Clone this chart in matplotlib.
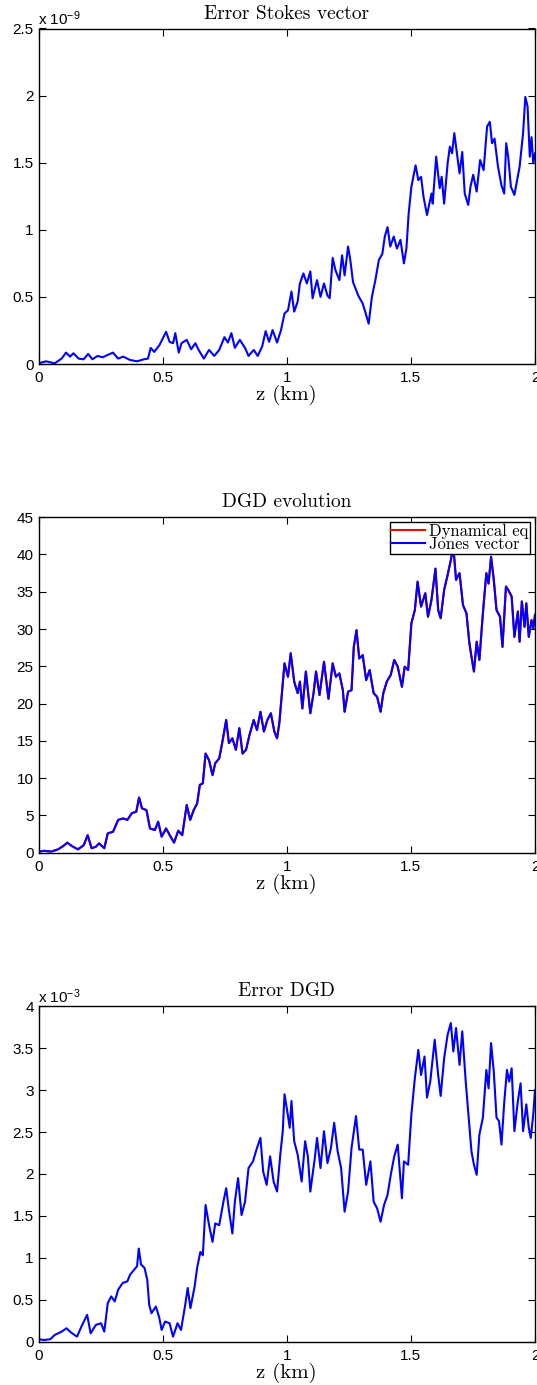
import matplotlib
matplotlib.use("Agg")
import matplotlib.pyplot as plt
from matplotlib.ticker import FuncFormatter, MultipleLocator

plt.rcParams['mathtext.fontset'] = 'custom'
plt.rcParams['mathtext.rm'] = 'Liberation Sans'
plt.rcParams['mathtext.it'] = 'Liberation Sans:italic'
plt.rcParams['font.family'] = ['Liberation Sans', 'DejaVu Sans']

# ---------------- data ----------------
# Panel 1: Error Stokes vector (values in units of 1e-9)
stokes_scale = 1e-9
stokes_z = [0, 0.030, 0.065, 0.093, 0.111, 0.127, 0.141, 0.162, 0.182, 0.200, 0.217, 0.238,
            0.258, 0.300, 0.321, 0.341, 0.369, 0.397, 0.424, 0.441, 0.452, 0.466, 0.487, 0.514,
            0.528, 0.542, 0.551, 0.565, 0.576, 0.597, 0.615, 0.632, 0.645, 0.666, 0.687, 0.708,
            0.728, 0.749, 0.763, 0.777, 0.791, 0.811, 0.832, 0.846, 0.867, 0.883, 0.901, 0.915,
            0.929, 0.943, 0.961, 0.977, 0.991, 1.005, 1.019, 1.030, 1.044, 1.053, 1.067, 1.081,
            1.095, 1.104, 1.122, 1.136, 1.150, 1.164, 1.173, 1.185, 1.196, 1.212, 1.223, 1.233,
            1.247, 1.256, 1.267, 1.288, 1.306, 1.316, 1.330, 1.343, 1.357, 1.371, 1.385, 1.395,
            1.406, 1.417, 1.431, 1.444, 1.458, 1.472, 1.482, 1.491, 1.502, 1.519, 1.530, 1.541,
            1.551, 1.565, 1.583, 1.588, 1.602, 1.616, 1.624, 1.634, 1.648, 1.657, 1.666, 1.675,
            1.685, 1.696, 1.707, 1.717, 1.731, 1.740, 1.751, 1.765, 1.779, 1.793, 1.807, 1.818,
            1.827, 1.837, 1.851, 1.865, 1.876, 1.884, 1.892, 1.903, 1.917, 1.928, 1.938, 1.952,
            1.961, 1.970, 1.979, 1.986, 1.993, 2.000]
stokes_err = [0.005, 0.02, 0.005, 0.04, 0.085, 0.055, 0.08, 0.04, 0.035, 0.075, 0.035, 0.06,
              0.05, 0.085, 0.04, 0.055, 0.03, 0.02, 0.035, 0.04, 0.12, 0.09, 0.14, 0.24,
              0.165, 0.155, 0.23, 0.085, 0.155, 0.18, 0.11, 0.155, 0.105, 0.04, 0.105, 0.06,
              0.105, 0.2, 0.16, 0.23, 0.12, 0.18, 0.12, 0.06, 0.105, 0.06, 0.13, 0.245,
              0.165, 0.253, 0.16, 0.253, 0.377, 0.40, 0.54, 0.39, 0.465, 0.60, 0.675, 0.60,
              0.69, 0.49, 0.625, 0.50, 0.60, 0.51, 0.49, 0.79, 0.70, 0.625, 0.81, 0.66,
              0.875, 0.775, 0.61, 0.51, 0.45, 0.39, 0.30, 0.50, 0.625, 0.775, 0.82, 0.95,
              1.02, 0.875, 0.95, 0.86, 0.925, 0.75, 0.86, 1.12, 1.32, 1.48, 1.37, 1.395,
              1.245, 1.11, 1.27, 1.195, 1.545, 1.31, 1.395, 1.195, 1.495, 1.62, 1.57, 1.72,
              1.58, 1.42, 1.58, 1.27, 1.185, 1.32, 1.41, 1.285, 1.52, 1.445, 1.77, 1.805,
              1.645, 1.68, 1.47, 1.33, 1.27, 1.645, 1.545, 1.32, 1.26, 1.37, 1.47, 1.72,
              1.99, 1.92, 1.545, 1.69, 1.495, 1.57]

# Panel 2: DGD evolution
dgd_z = [0, 0.023, 0.051, 0.079, 0.100, 0.116, 0.134, 0.159, 0.182, 0.198, 0.214, 0.231,
         0.244, 0.265, 0.279, 0.300, 0.321, 0.341, 0.358, 0.376, 0.394, 0.405, 0.417, 0.435,
         0.449, 0.469, 0.482, 0.496, 0.514, 0.532, 0.546, 0.563, 0.579, 0.597, 0.611, 0.625,
         0.639, 0.650, 0.662, 0.673, 0.687, 0.701, 0.712, 0.728, 0.742, 0.756, 0.767, 0.781,
         0.795, 0.809, 0.822, 0.836, 0.850, 0.867, 0.880, 0.894, 0.908, 0.922, 0.936, 0.950,
         0.961, 0.970, 0.980, 0.991, 1.005, 1.016, 1.030, 1.044, 1.053, 1.063, 1.077, 1.095,
         1.108, 1.118, 1.132, 1.150, 1.168, 1.185, 1.198, 1.212, 1.226, 1.233, 1.247, 1.261,
         1.270, 1.281, 1.292, 1.306, 1.320, 1.334, 1.350, 1.364, 1.378, 1.389, 1.403, 1.419,
         1.433, 1.447, 1.464, 1.475, 1.489, 1.502, 1.516, 1.527, 1.541, 1.558, 1.569, 1.583,
         1.599, 1.610, 1.620, 1.634, 1.648, 1.661, 1.671, 1.682, 1.696, 1.710, 1.724, 1.735,
         1.744, 1.754, 1.765, 1.776, 1.790, 1.804, 1.813, 1.823, 1.834, 1.845, 1.859, 1.869,
         1.883, 1.892, 1.906, 1.917, 1.931, 1.938, 1.947, 1.958, 1.965, 1.975, 1.986, 1.993,
         2.000]
dgd_jones = [0.15, 0.25, 0.15, 0.45, 0.9, 1.35, 0.9, 0.45, 1.0, 2.35, 0.6, 0.8,
             1.25, 0.6, 2.6, 2.8, 4.4, 4.6, 4.4, 5.3, 5.5, 7.4, 5.95, 5.7,
             3.25, 3.05, 4.15, 2.15, 3.25, 2.15, 1.35, 2.95, 2.35, 6.4, 4.4, 5.7,
             6.6, 9.1, 9.3, 13.3, 12.4, 10.4, 12.0, 12.65, 15.1, 17.8, 14.7, 15.35,
             13.8, 16.7, 13.3, 13.8, 15.8, 17.8, 16.45, 18.9, 16.25, 17.8, 18.7, 16.25,
             15.35, 17.35, 21.15, 25.4, 23.6, 26.75, 22.95, 21.4, 22.95, 19.35, 24.3, 18.7,
             21.4, 24.3, 21.15, 25.6, 20.65, 25.4, 23.6, 24.05, 21.8, 18.9, 21.6, 21.8,
             27.6, 29.85, 26.05, 26.5, 23.15, 24.5, 21.4, 20.9, 18.9, 21.4, 22.95, 23.85,
             25.85, 24.95, 22.25, 24.95, 24.5, 30.75, 32.55, 36.35, 33.0, 34.8, 31.65, 33.9,
             38.1, 32.55, 31.45, 35.25, 37.25, 39.25, 41.05, 36.6, 37.5, 33.2, 32.1, 28.3,
             26.3, 24.3, 28.3, 25.85, 32.1, 37.5, 36.1, 39.7, 36.6, 32.55, 31.65, 27.6,
             35.7, 35.25, 34.35, 28.95, 32.35, 28.3, 33.7, 30.3, 33.45, 28.95, 31.2, 30.1,
             31.9]
dgd_dynamical = list(dgd_jones)

# Panel 3: Error DGD (values in units of 1e-3)
dgd_err_scale = 1e-3
err_z = [0, 0.023, 0.048, 0.065, 0.093, 0.113, 0.131, 0.155, 0.176, 0.196, 0.210, 0.231,
         0.252, 0.265, 0.279, 0.293, 0.307, 0.321, 0.339, 0.358, 0.369, 0.386, 0.397, 0.404,
         0.413, 0.427, 0.438, 0.446, 0.455, 0.473, 0.487, 0.496, 0.510, 0.528, 0.542, 0.560,
         0.574, 0.590, 0.601, 0.612, 0.629, 0.639, 0.652, 0.662, 0.673, 0.687, 0.701, 0.712,
         0.728, 0.745, 0.756, 0.767, 0.781, 0.791, 0.804, 0.818, 0.832, 0.846, 0.864, 0.878,
         0.894, 0.905, 0.919, 0.933, 0.947, 0.961, 0.974, 0.984, 0.991, 1.002, 1.012, 1.019,
         1.030, 1.044, 1.060, 1.074, 1.085, 1.095, 1.113, 1.122, 1.136, 1.150, 1.164, 1.178,
         1.191, 1.205, 1.219, 1.233, 1.247, 1.261, 1.279, 1.292, 1.306, 1.320, 1.337, 1.350,
         1.364, 1.378, 1.392, 1.406, 1.419, 1.433, 1.447, 1.464, 1.472, 1.489, 1.502, 1.516,
         1.530, 1.541, 1.555, 1.565, 1.578, 1.596, 1.610, 1.620, 1.634, 1.648, 1.661, 1.671,
         1.682, 1.696, 1.707, 1.721, 1.735, 1.744, 1.754, 1.765, 1.776, 1.790, 1.804, 1.813,
         1.823, 1.834, 1.845, 1.855, 1.865, 1.876, 1.887, 1.896, 1.906, 1.917, 1.931, 1.942,
         1.952, 1.965, 1.975, 1.983, 1.993, 2.000]
dgd_err = [0.03, 0.02, 0.03, 0.08, 0.12, 0.16, 0.11, 0.06, 0.2, 0.32, 0.1, 0.2,
           0.22, 0.12, 0.46, 0.54, 0.48, 0.62, 0.70, 0.72, 0.80, 0.86, 0.90, 1.11,
           0.92, 0.88, 0.74, 0.44, 0.34, 0.42, 0.28, 0.14, 0.24, 0.22, 0.06, 0.22,
           0.14, 0.42, 0.64, 0.40, 0.66, 0.88, 1.07, 1.03, 1.63, 1.39, 1.19, 1.41,
           1.39, 1.67, 1.83, 1.57, 1.29, 1.67, 1.95, 1.51, 1.67, 2.07, 2.15, 2.29,
           2.43, 2.03, 1.87, 2.21, 1.91, 1.79, 2.23, 2.51, 2.95, 2.75, 2.55, 2.87,
           2.39, 2.23, 1.91, 2.39, 2.21, 1.79, 2.19, 2.43, 2.07, 2.51, 2.13, 2.31,
           2.61, 2.27, 2.07, 1.55, 1.79, 2.31, 2.69, 2.29, 2.29, 1.87, 2.15, 1.67,
           1.59, 1.43, 1.63, 1.75, 1.99, 2.21, 2.35, 1.71, 2.15, 2.11, 2.71, 3.14,
           3.48, 3.18, 3.40, 2.91, 3.10, 3.60, 3.18, 2.93, 3.38, 3.66, 3.80, 3.46,
           3.74, 3.30, 3.70, 3.10, 2.59, 2.27, 2.11, 1.99, 2.47, 2.67, 3.24, 3.02,
           3.56, 3.22, 2.67, 2.63, 2.35, 2.85, 3.24, 3.10, 3.26, 2.51, 2.87, 3.08,
           2.51, 2.83, 2.55, 2.43, 2.71, 3.00]

x_ticks = [0, 0.5, 1, 1.5, 2]
titles = ["Error Stokes vector", "DGD evolution", "Error DGD"]
xlabel = "z (km)"
legend_labels = ["Dynamical eq", "Jones vector"]

# ---------------- figure ----------------
W, H = 537, 1385
fig = plt.figure(figsize=(W / 100, H / 100), dpi=100)
left = 38.5 / W
width = 496.5 / W
ah = 335.5 / H
bottoms = [1 - 364.0 / H, 1 - 852.7 / H, 1 - 1341.7 / H]
axes = [fig.add_axes([left, b, width, ah]) for b in bottoms]

serif = 'cmr10'
tick_fs = 11
title_fs = 14
label_fs = 15
blue = (0, 0, 1)
red = (1, 0, 0)
lw = 1.5

def style(ax, ymax, ystep, fmt=None):
    ax.set_xlim(0, 2)
    ax.set_ylim(0, ymax)
    ax.set_xticks(x_ticks)
    ax.set_xticklabels([f"{t:g}" for t in x_ticks])
    ax.yaxis.set_major_locator(MultipleLocator(ystep))
    if fmt is not None:
        ax.yaxis.set_major_formatter(fmt)
    else:
        ax.yaxis.set_major_formatter(FuncFormatter(lambda v, p: f"{v:g}"))
    ax.tick_params(direction='in', length=5, width=0.8, top=True, right=True,
                   labelsize=tick_fs, colors='black')
    ax.tick_params(axis='x', pad=5)
    ax.tick_params(axis='y', pad=3.5)
    for s in ax.spines.values():
        s.set_linewidth(1.0)
        s.set_color('black')
    ax.set_xlabel(xlabel, fontfamily=serif, fontsize=label_fs, labelpad=0)

def exp_label(ax, exponent):
    ax.text(0.0, 1.009, r"x 10$^{-%d}$" % exponent, transform=ax.transAxes,
            fontsize=tick_fs, ha='left', va='baseline')

# Panel 1
ax = axes[0]
ax.plot(stokes_z, [v * stokes_scale for v in stokes_err], color=blue, lw=lw)
style(ax, 2.5 * stokes_scale, 0.5 * stokes_scale,
      FuncFormatter(lambda v, p: f"{round(v / stokes_scale, 6):g}"))
ax.set_title(titles[0], fontfamily=serif, fontsize=title_fs, pad=7)
exp_label(ax, 9)

# Panel 2
ax = axes[1]
ax.plot(dgd_z, dgd_dynamical, color=red, lw=lw, label=legend_labels[0])
ax.plot(dgd_z, dgd_jones, color=blue, lw=lw, label=legend_labels[1])
style(ax, 45, 5)
ax.set_title(titles[1], fontfamily=serif, fontsize=title_fs, pad=7)
leg = ax.legend(loc='upper right', bbox_to_anchor=(0.99, 0.985), prop={'family': serif, 'size': 12},
                frameon=True, fancybox=False, edgecolor='black', framealpha=1,
                borderpad=0.1, labelspacing=-0.15, handlelength=2.0, handletextpad=0.25,
                borderaxespad=0.0)
leg.get_frame().set_linewidth(1.0)

# Panel 3
ax = axes[2]
ax.plot(err_z, [v * dgd_err_scale for v in dgd_err], color=blue, lw=lw)
style(ax, 4 * dgd_err_scale, 0.5 * dgd_err_scale,
      FuncFormatter(lambda v, p: f"{round(v / dgd_err_scale, 6):g}"))
ax.set_title(titles[2], fontfamily=serif, fontsize=title_fs, pad=7)
exp_label(ax, 3)

fig.savefig("out.png", dpi=100)
